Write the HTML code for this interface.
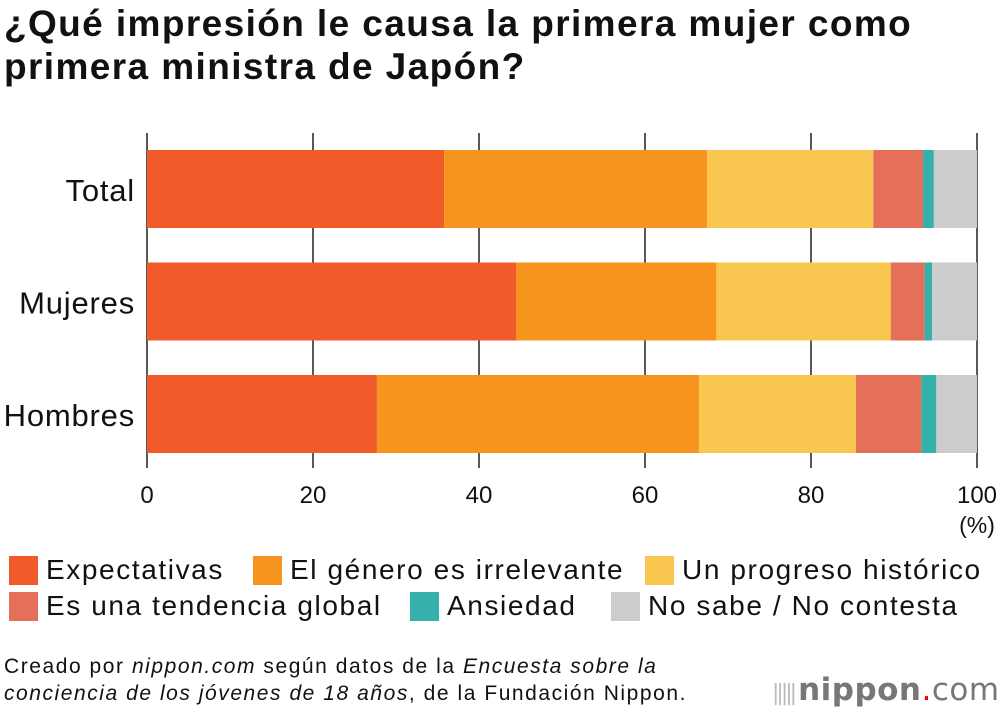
<!DOCTYPE html>
<html><head><meta charset="utf-8"><style>
body{margin:0;width:1000px;height:714px;background:#fff;font-family:"Liberation Sans",sans-serif;overflow:hidden;position:relative}
.t{position:absolute;left:4px;top:2px;font-size:37px;letter-spacing:1.4px;font-weight:bold;line-height:43px;color:#111;white-space:nowrap}
.leg{position:absolute;font-size:28px;letter-spacing:1.6px;color:#111;display:flex;align-items:center;white-space:nowrap}
.leg i{display:inline-block;width:29px;height:29px;margin-right:8px}
.note{position:absolute;left:4px;top:653px;font-size:21px;letter-spacing:1.55px;line-height:27px;color:#111;white-space:nowrap}
</style></head><body>
<div class="t">¿Qué impresión le causa la primera mujer como<br>primera ministra de Japón?</div>
<svg id="c" width="1000" height="540" style="position:absolute;left:0;top:0"></svg>
<div class="leg" style="left:9px;top:554px"><i style="background:#f15a29"></i>Expectativas</div>
<div class="leg" style="left:253px;top:554px"><i style="background:#f7941d"></i>El género es irrelevante</div>
<div class="leg" style="left:645px;top:554px"><i style="background:#f9c74f"></i>Un progreso histórico</div>
<div class="leg" style="left:9px;top:590px"><i style="background:#e5705a"></i>Es una tendencia global</div>
<div class="leg" style="left:410px;top:590px"><i style="background:#36b0ab"></i>Ansiedad</div>
<div class="leg" style="left:611px;top:590px"><i style="background:#cccccc"></i>No sabe / No contesta</div>
<div class="note">Creado por <i>nippon.com</i> según datos de la <i>Encuesta sobre la<br>conciencia de los jóvenes de 18 años</i>, de la Fundación Nippon.</div>
<div style="position:absolute;left:772px;top:672px;font-size:31px;color:#777;font-family:'DejaVu Sans',sans-serif;letter-spacing:0.5px;white-space:nowrap"><span style="font-size:22px;color:#bbb;letter-spacing:-3px">||||| </span><b>nippon</b><span style="color:#e00">.</span>com</div>
<script>
const categories=["Total","Mujeres","Hombres"];
const expectativas=[35.8,44.5,27.7];
const irrelevante=[31.7,24.1,38.8];
const progreso=[20.0,21.0,18.9];
const tendencia=[6.0,4.1,7.9];
const ansiedad=[1.3,0.9,1.8];
const noSabe=[5.2,5.4,4.9];
const ticks=[0,20,40,60,80,100];
const series=[[expectativas,"#f15a29","expectativas"],[irrelevante,"#f7941d","irrelevante"],[progreso,"#f9c74f","progreso"],[tendencia,"#e5705a","tendencia"],[ansiedad,"#36b0ab","ansiedad"],[noSabe,"#cccccc","no-sabe"]];
const svg=document.getElementById('c');const NS="http://www.w3.org/2000/svg";
const x=v=>147+v*8.3;const y=i=>150+i*112.5;
function mk(t,a){const e=document.createElementNS(NS,t);for(const k in a)e.setAttribute(k,a[k]);svg.appendChild(e);return e;}
ticks.forEach(t=>{
const l=mk('line',{x1:x(t),x2:x(t),y1:133,y2:468,stroke:'#222','stroke-width':1.5});


const tx=mk('text',{x:x(t),y:503,'text-anchor':'middle','font-size':24,fill:'#111'});tx.textContent=t;


});
const u=mk('text',{x:977,y:533,'text-anchor':'middle','font-size':23,fill:'#111'});u.textContent='(%)';


categories.forEach((c,i)=>{
let acc=0;
series.forEach(([arr,col,nm])=>{
const r=mk('rect',{x:x(acc),y:y(i),width:arr[i]*8.3,height:78,fill:col});


acc+=arr[i];});
const t=mk('text',{x:135,y:y(i)+51,'text-anchor':'end','font-size':31,'letter-spacing':'0.8',fill:'#111'});t.textContent=c;


});
</script>
</body></html>
